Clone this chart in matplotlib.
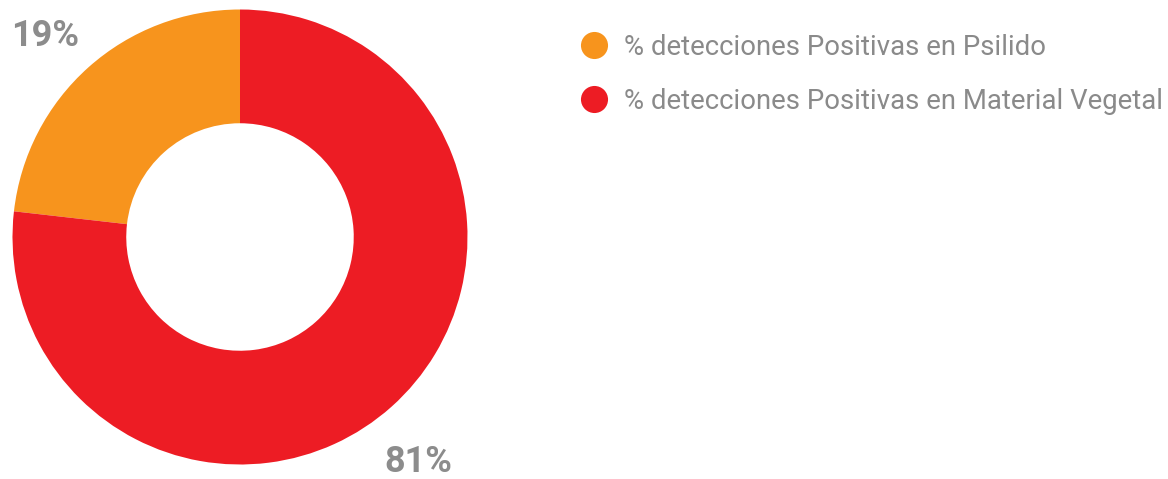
import matplotlib.pyplot as plt
from matplotlib.lines import Line2D

# valores
series = ["% detecciones Positivas en Psilido", "% detecciones Positivas en Material Vegetal"]
porcentajes = [19, 81]          # etiquetas impresas
tamanos = [23.2, 76.8]          # tamano de las porciones tal como se dibujan
colores = ["#F7941D", "#ED1C24"]

W, H = 1168, 479
fig = plt.figure(figsize=(W / 100, H / 100), dpi=100)

# ejes del anillo: centro (240, 237) px, radio 227.5 px
r = 227.5
ax = fig.add_axes([(240 - r) / W, (H - 237 - r) / H, 2 * r / W, 2 * r / H])
ax.pie(tamanos, colors=colores, startangle=90, counterclock=True, radius=1,
       wedgeprops=dict(width=0.5, linewidth=0))
ax.set_xlim(-1, 1)
ax.set_ylim(-1, 1)
ax.set_aspect("equal")
ax.axis("off")

gris = "#8C8C8C"
fig.text(45 / W, 1 - 36 / H, str(porcentajes[0]) + "%", fontsize=26, fontweight="bold",
         color=gris, ha="center", va="center", family="Roboto")
fig.text(418 / W, 1 - 462 / H, str(porcentajes[1]) + "%", fontsize=26, fontweight="bold",
         color=gris, ha="center", va="center", family="Roboto")

handles = [Line2D([], [], linestyle="none", marker="o", markersize=19.5,
                  markerfacecolor=c, markeredgewidth=0) for c in colores]
leg = fig.legend(handles, series, loc="upper left", bbox_to_anchor=(580 / W, 1 - 34 / H),
                 frameon=False, handlelength=1.0, handletextpad=0.6, labelspacing=0.97,
                 borderpad=0, borderaxespad=0,
                 prop={"family": "Roboto", "size": 19.8})
for t in leg.get_texts():
    t.set_color("#8A8A8A")

fig.savefig("out.png", dpi=100)
